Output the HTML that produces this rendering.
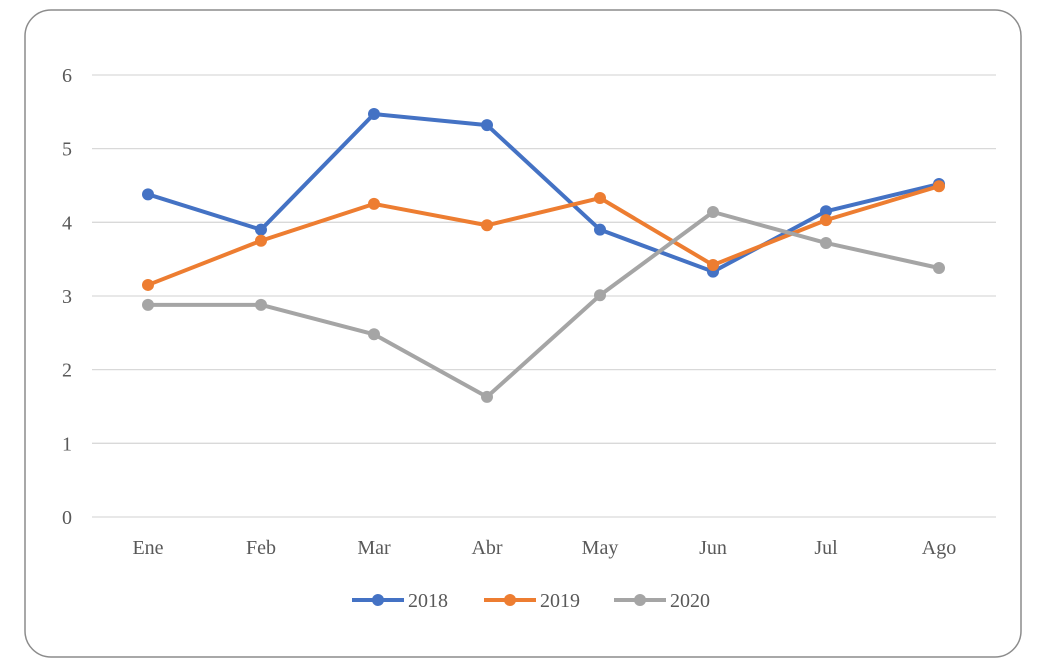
<!DOCTYPE html>
<html><head><meta charset="utf-8"><style>
html,body{margin:0;padding:0;background:#fff;}
svg{display:block;font-family:"Liberation Serif",serif;}
</style></head><body>
<svg id="chart" width="1046" height="671">
<rect x="25" y="10" width="996" height="647" rx="26" fill="#fff" stroke="#8c8c8c" stroke-width="1.5"/>
<g id="grid"></g><g id="series"></g><g id="legend"></g>
</svg>
<script>
const categories=["Ene","Feb","Mar","Abr","May","Jun","Jul","Ago"];
const yTicks=[0,1,2,3,4,5,6];
const s2018=[4.38,3.90,5.47,5.32,3.90,3.33,4.15,4.52];
const s2019=[3.15,3.75,4.25,3.96,4.33,3.42,4.03,4.49];
const s2020=[2.88,2.88,2.48,1.63,3.01,4.14,3.72,3.38];
const seriesNames=["2018","2019","2020"];
const NS="http://www.w3.org/2000/svg";
const X=i=>148+i*113, Y=v=>517-v*73.67;
function mk(t,a,p){const e=document.createElementNS(NS,t);for(const k in a)e.setAttribute(k,a[k]);p.appendChild(e);return e;}
const grid=document.getElementById('grid');
yTicks.forEach(v=>{
 const l=mk('line',{x1:92,x2:996,y1:Y(v),y2:Y(v),stroke:'#d9d9d9','stroke-width':1.3},grid);
 
 
 const t=mk('text',{x:72,y:Y(v)+7,'text-anchor':'end','font-size':20,fill:'#595959'},grid);
 t.textContent=v;
 
 
});
categories.forEach((c,i)=>{
 const t=mk('text',{x:X(i),y:554,'text-anchor':'middle','font-size':20,fill:'#595959'},grid);
 t.textContent=c;
 
 
});
const colors=["#4472C4","#ED7D31","#A5A5A5"];
const sg=document.getElementById('series');
[s2018,s2019,s2020].forEach((d,k)=>{
 const g=mk('g',{},sg);
 
 
 const p=mk('polyline',{points:d.map((v,i)=>X(i)+','+Y(v)).join(' '),fill:'none',stroke:colors[k],'stroke-width':4,'stroke-linejoin':'round'},g);
 
 
 d.forEach((v,i)=>{
  const c=mk('circle',{cx:X(i),cy:Y(v),r:6,fill:colors[k]},g);
  
  
 });
});
const lg=document.getElementById('legend');
[352,484,614].forEach((x,k)=>{
 const g=mk('g',{},lg);
 
 
 mk('line',{x1:x,x2:x+52,y1:600,y2:600,stroke:colors[k],'stroke-width':4},g);
 mk('circle',{cx:x+26,cy:600,r:6,fill:colors[k]},g);
 const t=mk('text',{x:x+56,y:607,'font-size':20,fill:'#595959'},g);
 t.textContent=seriesNames[k];
});
</script>
</body></html>
